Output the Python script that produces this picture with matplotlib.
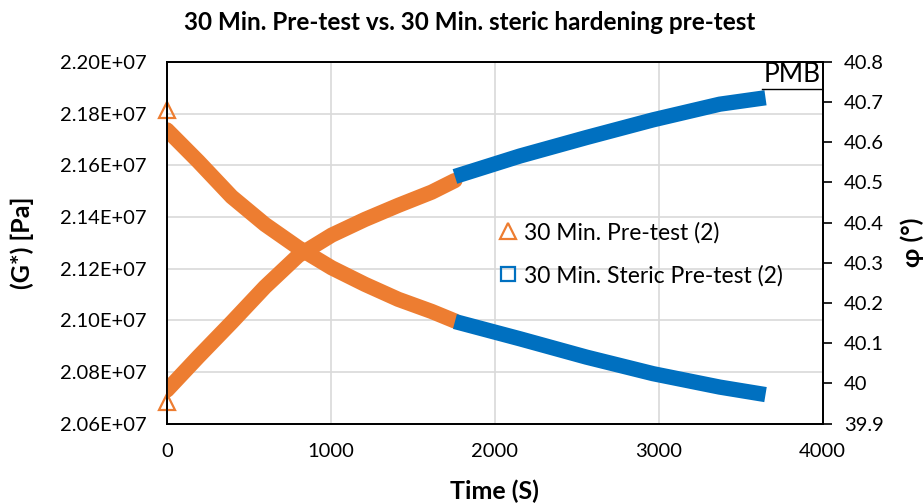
import matplotlib
matplotlib.use('Agg')
import matplotlib.pyplot as plt
from matplotlib.lines import Line2D
from matplotlib.ticker import FuncFormatter, MultipleLocator

plt.rcParams['font.family'] = ['Lato', 'DejaVu Sans']

# 30 Min. pre-test (orange)
time_pre = [0, 191, 395, 598, 801, 1005, 1208, 1411, 1615, 1757]
gstar_pre = [2.1737e7, 2.1615e7, 2.1478e7, 2.1371e7, 2.1281e7, 2.1203e7,
             2.1139e7, 2.1081e7, 2.1034e7, 2.0997e7]
phi_pre = [39.983, 40.066, 40.152, 40.240, 40.318, 40.369, 40.408, 40.443, 40.476, 40.505]
# first recorded point sits off the curve
first_time = [0]
first_gstar = [2.1815e7]
first_phi = [39.954]

# 30 Min. steric pre-test (blue)
time_ster = [1757, 2154, 2560, 2966, 3373, 3652]
gstar_ster = [2.0995e7, 2.0928e7, 2.0857e7, 2.0793e7, 2.0741e7, 2.0712e7]
phi_ster = [40.515, 40.566, 40.612, 40.656, 40.695, 40.711]

orange = '#ed7d31'
blue = '#0070c0'
band = 11
tick_size = 14.5
label_size = 18

fig = plt.figure(figsize=(9.24, 5.04), dpi=100)
ax = fig.add_axes([0.1807, 0.1597, 0.7095, 0.7173])
ax2 = ax.twinx()

pre_kw = dict(lw=band, solid_capstyle='round', solid_joinstyle='round')
ster_kw = dict(lw=band, solid_capstyle='butt', solid_joinstyle='round')
ax.plot(time_pre, gstar_pre, color=orange, **pre_kw)
ax2.plot(time_pre, phi_pre, color=orange, **pre_kw)
ax.plot(time_ster, gstar_ster, color=blue, **ster_kw)
ax2.plot(time_ster, phi_ster, color=blue, **ster_kw)
ax.plot(first_time, first_gstar, ls='none', marker='^', ms=11, mfc='none', mec=orange, mew=1.6, clip_on=False)
ax2.plot(first_time, first_phi, ls='none', marker='^', ms=11, mfc='none', mec=orange, mew=1.6, clip_on=False)

ax.set_xlim(0, 4000)
ax.set_ylim(2.06e7, 2.20e7)
ax2.set_ylim(39.9, 40.8)
ax.xaxis.set_major_locator(MultipleLocator(1000))
ax.yaxis.set_major_locator(MultipleLocator(0.02e7))
ax2.yaxis.set_major_locator(MultipleLocator(0.1))
ax.yaxis.set_major_formatter(FuncFormatter(lambda v, p: f"{v:.2E}"))
ax2.yaxis.set_major_formatter(FuncFormatter(lambda v, p: f"{round(v, 1):g}"))

ax.grid(True, color='#d9d9d9', linewidth=1.2)
ax.set_axisbelow(True)
ax.tick_params(axis='x', length=0, labelsize=tick_size, pad=14)
ax.tick_params(axis='y', length=0, labelsize=tick_size, pad=15)
ax2.tick_params(axis='y', length=6.5, width=1.2, direction='out', labelsize=tick_size, pad=9)
for a in (ax, ax2):
    for s in a.spines.values():
        s.set_linewidth(1.3)
        s.set_color('black')

ax.set_xlabel('Time (S)', fontsize=label_size, fontweight='bold')
ax.xaxis.set_label_coords(0.5, -0.155)
ax.set_ylabel('(G*) [Pa]', fontsize=label_size, fontweight='bold')
ax.yaxis.set_label_coords(-0.203, 0.5)
ax2.set_ylabel('φ (°)', fontsize=label_size, fontweight='bold', labelpad=12)
fig.text(0.508, 0.956, '30 Min. Pre-test vs. 30 Min. steric hardening pre-test',
         ha='center', va='center', fontsize=17.5, fontweight='bold')

handles = [Line2D([], [], ls='none', marker='^', ms=11, mfc='none', mec=orange, mew=1.6),
           Line2D([], [], ls='none', marker='s', ms=10, mfc='none', mec=blue, mew=1.6)]
ax2.legend(handles, ['30 Min. Pre-test (2)', '30 Min. Steric Pre-test (2)'],
           loc='upper left', bbox_to_anchor=(0.49, 0.59), frameon=False,
           fontsize=16.5, handlelength=0.7, handletextpad=0.35, labelspacing=0.95,
           borderpad=0)

ax2.text(0.998, 0.93, 'PMB', transform=ax2.transAxes, ha='right', va='bottom', fontsize=19)
ax2.plot([0.908, 1.0], [0.925, 0.925], transform=ax2.transAxes, color='black', lw=1)

fig.savefig('out.png', dpi=100)
